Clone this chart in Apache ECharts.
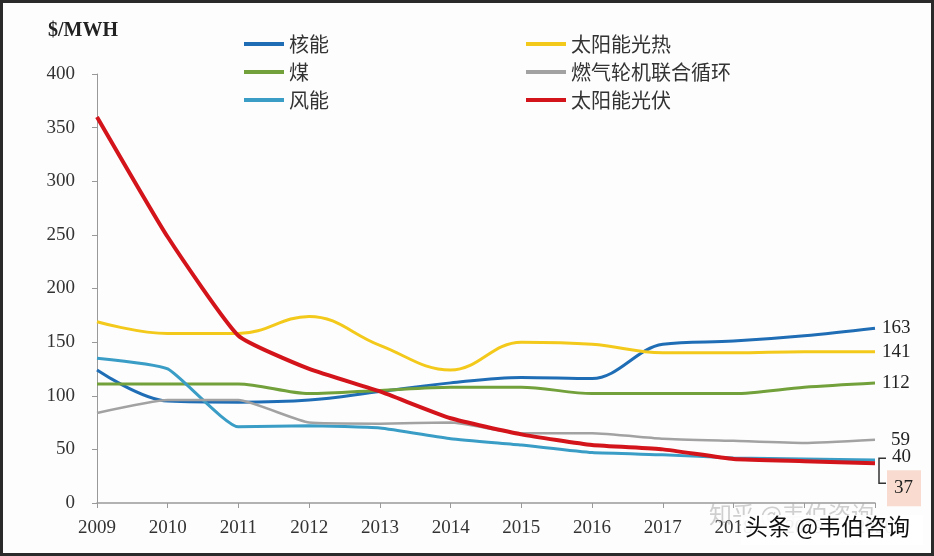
<!DOCTYPE html>
<html>
<head>
<meta charset="utf-8">
<script src="https://cdn.jsdelivr.net/npm/echarts@6/dist/echarts.min.js"></script>
<style>
  html, body { margin: 0; padding: 0; background: #fff; }
  #chart {
    width: 934px;
    height: 556px;
    box-sizing: border-box;
    border: 3px solid #2a2a2a;
    background: #fdfdfd;
  }
</style>
</head>
<body>
<div id="chart"></div>
<script>
// years on the x axis
var years = ["2009", "2010", "2011", "2012", "2013", "2014", "2015", "2016", "2017", "2018", "2019", "2020"];

// $/MWH
var nuclear = [124, 95, 94, 96, 104, 112, 117, 116, 148, 151, 156, 163];
var coal = [111, 111, 111, 102, 105, 108, 108, 102, 102, 102, 108, 112];
var wind = [135, 125, 71, 72, 70, 60, 54, 47, 45, 42, 41, 40];
var solarThermal = [169, 158, 158, 174, 147, 124, 150, 148, 140, 140, 141, 141];
var gasCC = [84, 96, 96, 75, 74, 75, 65, 65, 60, 58, 56, 59];
var solarPV = [360, 248, 156, 125, 104, 79, 64, 54, 50, 41, 39, 37];

var yTicks = [0, 50, 100, 150, 200, 250, 300, 350, 400];

var serif = '"Liberation Serif", "DejaVu Serif", serif';
var cjk = '"Noto Sans CJK SC", sans-serif';

var myChart = echarts.init(document.getElementById("chart"));

function endLbl(extra) {
  var l = {
    show: true,
    formatter: function (p) {
      return p.value;
    },
    fontFamily: serif,
    fontSize: 19,
    color: "#222",
    distance: 7,
  };
  for (var k in extra) l[k] = extra[k];
  return l;
}

function line(name, data, color, width, smooth, label) {
  return {
    name: name,
    type: "line",
    data: data,
    smooth: smooth,
    showSymbol: false,
    symbol: "none",
    lineStyle: { color: color, width: width },
    itemStyle: { color: color },
    endLabel: label,
    z: 2,
  };
}

var legendText = { fontFamily: cjk, fontSize: 20, color: "#333", lineHeight: 20 };

var option = {
  animation: false,
  title: {
    text: "$/MWH",
    left: 40,
    top: 13,
    textStyle: {
      fontFamily: serif,
      fontSize: 20,
      fontWeight: "bold",
      color: "#222",
    },
  },
  legend: [
    {
      orient: "vertical",
      left: 236,
      top: 26,
      itemWidth: 40,
      itemHeight: 4,
      itemGap: 8,
      icon: "rect",
      data: ["核能", "煤", "风能"],
      textStyle: legendText,
    },
    {
      orient: "vertical",
      left: 518,
      top: 26,
      itemWidth: 40,
      itemHeight: 4,
      itemGap: 8,
      icon: "rect",
      data: ["太阳能光热", "燃气轮机联合循环", "太阳能光伏"],
      textStyle: legendText,
    },
  ],
  grid: {
    left: 94,
    right: 56,
    top: 71,
    bottom: 50,
  },
  xAxis: {
    type: "category",
    data: years,
    boundaryGap: false,
    axisLine: { lineStyle: { color: "#999", width: 1.5 } },
    axisTick: { length: 5, lineStyle: { color: "#999" } },
    axisLabel: {
      fontFamily: serif,
      fontSize: 19,
      color: "#333",
      margin: 16,
      interval: 0,
    },
  },
  yAxis: {
    type: "value",
    min: yTicks[0],
    max: yTicks[yTicks.length - 1],
    interval: 50,
    axisLine: { show: true, lineStyle: { color: "#999" } },
    axisTick: { show: true, length: 5, lineStyle: { color: "#999" } },
    splitLine: { show: false },
    axisLabel: {
      fontFamily: serif,
      fontSize: 19,
      color: "#333",
      margin: 22,
    },
  },
  series: [
    line("核能", nuclear, "#1f6db5", 3, 0.35, endLbl({ offset: [0, 0] })),
    line("煤", coal, "#72a03a", 3, 0.3, endLbl({})),
    line("风能", wind, "#3a9dc6", 3, 0.15, endLbl({ offset: [10, -3] })),
    line("太阳能光热", solarThermal, "#f3c91b", 3, 0.4, endLbl({})),
    line("燃气轮机联合循环", gasCC, "#a2a2a2", 2.5, 0.15, endLbl({ offset: [9, 0] })),
    line(
      "太阳能光伏",
      solarPV,
      "#d3141b",
      4,
      0.15,
      endLbl({
        offset: [5, 25],
        backgroundColor: "#f9dccf",
        padding: [9, 8, 8, 7],
      })
    ),
  ],
};

option && myChart.setOption(option);

// bracket joining the 40 / 37 labels to the end of the lines
var endPt = myChart.convertToPixel({ seriesIndex: 5 }, [years.length - 1, solarPV[solarPV.length - 1]]);
var bx = endPt[0] + 4;
myChart.setOption({
  graphic: [
    {
      type: "polyline",
      shape: {
        points: [
          [bx + 7, endPt[1] - 5],
          [bx, endPt[1] - 5],
          [bx, endPt[1] + 20],
          [bx + 7, endPt[1] + 20],
        ],
      },
      style: { stroke: "#333", lineWidth: 1.5, fill: null },
      z: 10,
    },
    {
      type: "text",
      left: 706,
      top: 500,
      style: {
        text: "知乎 @韦伯咨询",
        font: '23px "Noto Sans CJK SC"',
        fill: "rgba(120,120,120,0.35)",
      },
      z: 11,
    },
    {
      type: "rect",
      left: 738,
      top: 512,
      shape: { width: 182, height: 30 },
      style: { fill: "rgba(255,255,255,0.92)" },
      z: 11,
    },
    {
      type: "text",
      left: 742,
      top: 512,
      style: {
        text: "头条 @韦伯咨询",
        font: '23px "Noto Sans CJK SC"',
        fill: "#111",
      },
      z: 12,
    },
  ],
});
</script>
</body>
</html>
